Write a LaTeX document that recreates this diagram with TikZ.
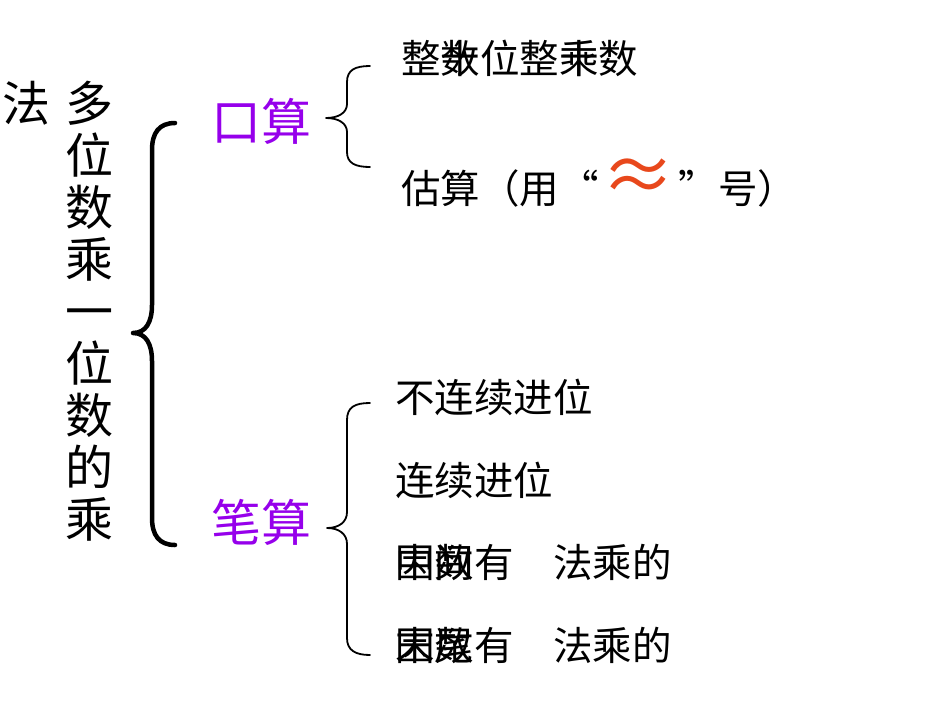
\documentclass[tikz,border=0pt]{standalone}
\usepackage{fontspec}
\setmainfont{Noto Sans CJK SC}
\definecolor{kouPurple}{RGB}{150,0,235}
\definecolor{approxRed}{RGB}{232,72,28}
\begin{document}
\begin{tikzpicture}[x=1pt,y=-1pt,
  txt/.style={inner sep=0pt,outer sep=0pt,anchor=base west,font=\fontsize{39.5}{39.5}\selectfont},
  col/.style={inner sep=0pt,outer sep=0pt,anchor=base,font=\fontsize{48}{48}\selectfont},
  head/.style={inner sep=0pt,outer sep=0pt,anchor=base,text=kouPurple,font=\fontsize{50}{50}\selectfont},
  bigbrace/.style={line width=4.5pt,line cap=round,line join=round},
  smallbrace/.style={line width=1.8pt,line cap=round,line join=round}]
\useasboundingbox (0,0) rectangle (950,713);
% left title
\node[col] (fa) at (26.5,121) {法};
\foreach \c [count=\i from 0] in {多,位,数,乘,一,位,数,的,乘}{
  \node[col] (c\i) at (89,{121+52*\i}) {\c};
}
% big brace
\draw[bigbrace] (175,123) .. controls (159,123) and (152,133) .. (152,150) -- (152,305)
  .. controls (152,322) and (146,333) .. (133,333)
  .. controls (146,333) and (152,344) .. (152,361) -- (152,518)
  .. controls (152,535) and (159,545) .. (175,545);
% headings
\node[head] (kou) at (261.5,140) {口算};
\node[head] (bi) at (261,541) {笔算};
% small braces
\draw[smallbrace] (370,66) .. controls (355,66) and (347,70) .. (347,82) -- (347,104)
  .. controls (347,113) and (338,118) .. (326,118)
  .. controls (338,118) and (347,123) .. (347,132) -- (347,152)
  .. controls (347,163) and (355,167) .. (370,167);
\draw[smallbrace] (370,403) .. controls (355,403) and (347,407) .. (347,420) -- (347,512)
  .. controls (347,522) and (339,528) .. (327,528)
  .. controls (339,528) and (347,534) .. (347,544) -- (347,638)
  .. controls (347,650) and (355,655) .. (370,655);
% items
\node[txt] (r1) at (401,73) {整数位整乘数};
\node[txt] (r1b) at (401,73) {\phantom{整}十\phantom{位整}十};
\node[txt] (r2) at (401,203) {估算（用“\makebox[80pt]{\raisebox{1pt}{\textcolor{approxRed}{\fontsize{74}{74}\selectfont ≈}}}”号）};
\node[txt] (r3) at (395,412) {不连续进位};
\node[txt] (r4) at (395,495) {连续进位};
\node[txt] (r5) at (395,577) {因数有　法乘的};
\node[txt] (r5b) at (395,577) {中间};
\node[txt] (r6) at (395,660) {因数有　法乘的};
\node[txt] (r6b) at (395,660) {末尾};
\end{tikzpicture}
\end{document}
